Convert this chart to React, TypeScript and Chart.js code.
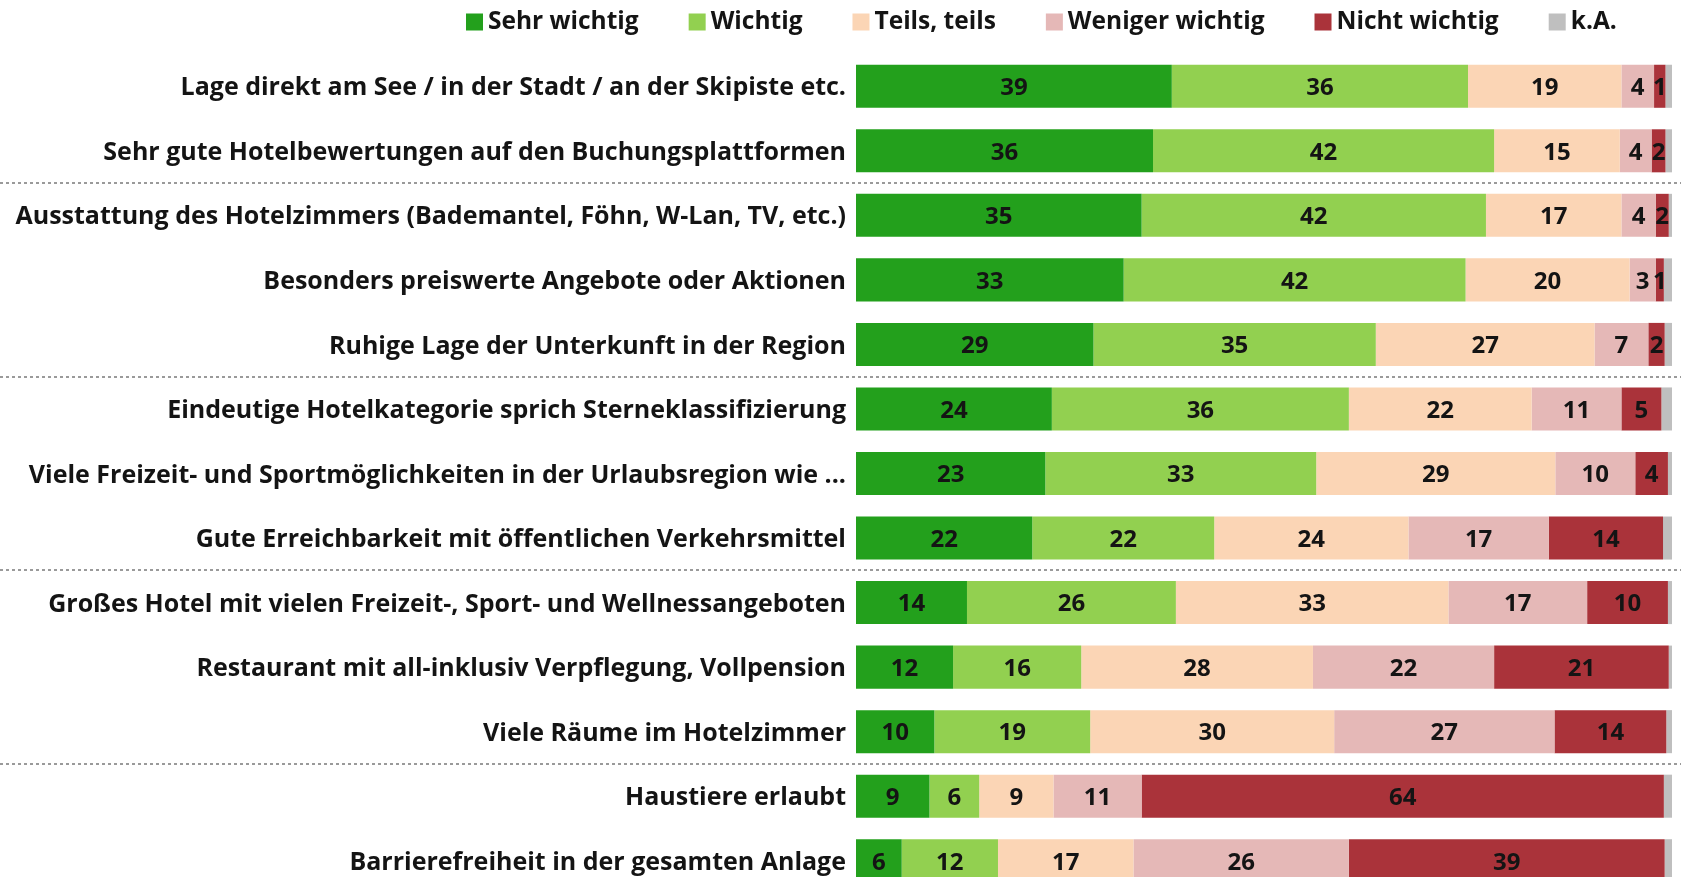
import React, { useEffect, useRef } from 'react';
import { Chart, registerables } from 'chart.js';

Chart.register(...registerables);

const categories = [
  'Lage direkt am See / in der Stadt / an der Skipiste etc.',
  'Sehr gute Hotelbewertungen auf den Buchungsplattformen',
  'Ausstattung des Hotelzimmers (Bademantel, Föhn, W-Lan, TV, etc.)',
  'Besonders preiswerte Angebote oder Aktionen',
  'Ruhige Lage der Unterkunft in der Region',
  'Eindeutige Hotelkategorie sprich Sterneklassifizierung',
  'Viele Freizeit- und Sportmöglichkeiten in der Urlaubsregion wie ...',
  'Gute Erreichbarkeit mit öffentlichen Verkehrsmittel',
  'Großes Hotel mit vielen Freizeit-, Sport- und Wellnessangeboten',
  'Restaurant mit all-inklusiv Verpflegung, Vollpension',
  'Viele Räume im Hotelzimmer',
  'Haustiere erlaubt',
  'Barrierefreiheit in der gesamten Anlage',
];

const seriesNames = ['Sehr wichtig', 'Wichtig', 'Teils, teils', 'Weniger wichtig', 'Nicht wichtig', 'k.A.'];
const seriesColors = ['#23a01c', '#92d050', '#fbd5b5', '#e5b8b7', '#aa333a', '#bfbfbf'];

const sehrWichtig = [38.7, 36.4, 35.0, 32.8, 29.1, 24.0, 23.2, 21.6, 13.6, 11.9, 9.6, 9.0, 5.6];
const wichtig = [36.3, 41.8, 42.2, 41.9, 34.6, 36.4, 33.2, 22.3, 25.6, 15.7, 19.1, 6.1, 11.8];
const teilsTeils = [18.8, 15.4, 16.6, 20.1, 26.8, 22.4, 29.3, 23.8, 33.4, 28.4, 29.9, 9.1, 16.6];
const wenigerWichtig = [4.0, 3.9, 4.2, 3.2, 6.6, 11.0, 9.8, 17.2, 17.0, 22.2, 27.0, 10.8, 26.4];
const nichtWichtig = [1.4, 1.7, 1.6, 1.0, 2.0, 4.9, 4.0, 14.0, 9.9, 21.4, 13.7, 64.0, 38.7];
const keineAngabe = [0.8, 0.8, 0.4, 1.0, 0.9, 1.3, 0.5, 1.1, 0.5, 0.4, 0.7, 1.0, 0.9];

const separatorsAfter = [1, 4, 7, 10];

const FONT = '"Open Sans", Lato, sans-serif';
const TEXT = '#141414';

const separatorPlugin = {
  id: 'separators',
  afterDraw(chart: any) {
    const y = chart.scales.y;
    const ctx = chart.ctx;
    ctx.save();
    ctx.strokeStyle = '#9a9a9a';
    ctx.lineWidth = 2;
    ctx.setLineDash([3, 3]);
    separatorsAfter.forEach((i) => {
      const py = Math.round((y.getPixelForValue(i) + y.getPixelForValue(i + 1)) / 2);
      ctx.beginPath();
      ctx.moveTo(0, py);
      ctx.lineTo(chart.width, py);
      ctx.stroke();
    });
    ctx.restore();
  },
};

const valueLabelPlugin = {
  id: 'valueLabels',
  afterDatasetsDraw(chart: any) {
    const ctx = chart.ctx;
    ctx.save();
    ctx.font = `bold 24px ${FONT}`;
    ctx.fillStyle = TEXT;
    ctx.textAlign = 'center';
    ctx.textBaseline = 'middle';
    chart.data.datasets.forEach((ds: any, di: number) => {
      if (di === 5) return;
      const meta = chart.getDatasetMeta(di);
      meta.data.forEach((el: any, j: number) => {
        const p = el.getProps(['x', 'y', 'base'], true);
        const cx = (p.x + p.base) / 2;
        ctx.fillText(String(Math.round(ds.data[j])), cx, p.y + 2);
      });
    });
    ctx.restore();
  },
};

const legendPlugin = {
  id: 'customLegend',
  afterDraw(chart: any) {
    const ctx = chart.ctx;
    ctx.save();
    ctx.font = `bold 24.5px ${FONT}`;
    ctx.textBaseline = 'middle';
    ctx.textAlign = 'left';
    let x = 466;
    const cy = 21;
    const box = 17;
    chart.data.datasets.forEach((ds: any) => {
      ctx.fillStyle = ds.backgroundColor;
      ctx.fillRect(x, cy - box / 2 + 1, box, box);
      x += box + 5;
      ctx.fillStyle = TEXT;
      ctx.fillText(ds.label, x, cy + 1);
      x += ctx.measureText(ds.label).width + 50;
    });
    ctx.restore();
  },
};

export default function App() {
  const ref = useRef<HTMLCanvasElement | null>(null);

  useEffect(() => {
    if (!ref.current) return;
    const values = [sehrWichtig, wichtig, teilsTeils, wenigerWichtig, nichtWichtig, keineAngabe];
    const chart = new Chart(ref.current, {
      type: 'bar',
      data: {
        labels: categories,
        datasets: values.map((v, i) => ({
          label: seriesNames[i],
          data: v,
          backgroundColor: seriesColors[i],
          borderWidth: 0,
          barPercentage: 0.667,
          categoryPercentage: 1,
        })),
      },
      options: {
        indexAxis: 'y',
        responsive: false,
        animation: false,
        devicePixelRatio: 1,
        layout: { padding: { top: 54, right: 9, bottom: 0, left: 0 } },
        plugins: {
          legend: { display: false },
          tooltip: { enabled: false },
        },
        scales: {
          x: {
            stacked: true,
            min: 0,
            max: 100,
            display: false,
          },
          y: {
            stacked: true,
            grid: { display: false, drawTicks: false },
            border: { display: false },
            ticks: {
              color: TEXT,
              padding: 10,
              labelOffset: 2,
              font: { family: FONT, size: 25, weight: 'bold' },
            },
            afterFit: (scale: any) => {
              scale.width = 856;
              scale.paddingTop = 0;
              scale.paddingBottom = 0;
            },
          },
        },
      },
      plugins: [separatorPlugin, valueLabelPlugin, legendPlugin],
    } as any);
    return () => chart.destroy();
  }, []);

  return (
    <div style={{ position: 'fixed', left: 0, top: 0, width: 1681, height: 877, overflow: 'hidden', background: '#fff' }}>
      <canvas ref={ref} width={1681} height={893} style={{ display: 'block' }} />
    </div>
  );
}
